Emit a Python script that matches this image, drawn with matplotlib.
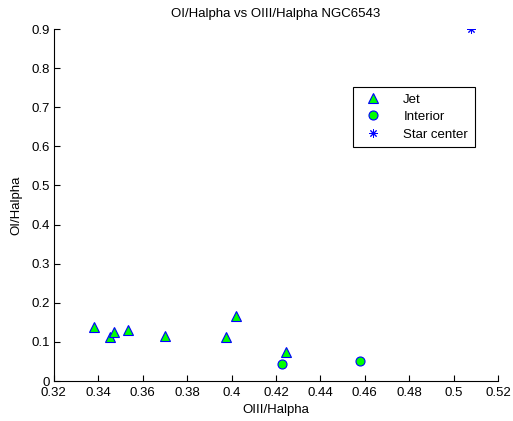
import matplotlib
matplotlib.use("Agg")
import matplotlib.pyplot as plt

plt.rcParams['font.family'] = ['Liberation Sans', 'DejaVu Sans']

# jet points
jet_x = [0.3382, 0.3452, 0.3470, 0.3532, 0.3699, 0.3975, 0.4021, 0.4244]
jet_y = [0.137, 0.113, 0.125, 0.131, 0.115, 0.1125, 0.167, 0.075]
# interior points
int_x = [0.4228, 0.4577]
int_y = [0.043, 0.051]
# star center
star_x = [0.508]
star_y = [0.9]

fig = plt.figure(figsize=(5.13, 4.21), dpi=100)
ax = fig.add_axes([0.105, 0.095, 0.866, 0.836])

ax.plot(jet_x, jet_y, '^', color='blue', markerfacecolor='#00ff00', markersize=7, markeredgewidth=0.8, label='Jet')
ax.plot(int_x, int_y, 'o', color='blue', markerfacecolor='#00ff00', markersize=6.5, markeredgewidth=0.8, label='Interior')
ax.plot(star_x, star_y, linestyle='none', marker=(8, 2, 0), color='blue', markersize=6, markeredgewidth=0.7, label='Star center')

ax.set_xlim(0.32, 0.52)
ax.set_ylim(0, 0.9)
ax.set_xticks([0.32, 0.34, 0.36, 0.38, 0.4, 0.42, 0.44, 0.46, 0.48, 0.5, 0.52])
ax.set_xticklabels(['0.32', '0.34', '0.36', '0.38', '0.4', '0.42', '0.44', '0.46', '0.48', '0.5', '0.52'])
ax.set_yticks([0, 0.1, 0.2, 0.3, 0.4, 0.5, 0.6, 0.7, 0.8, 0.9])
ax.set_yticklabels(['0', '0.1', '0.2', '0.3', '0.4', '0.5', '0.6', '0.7', '0.8', '0.9'])
ax.spines['top'].set_visible(False)
ax.spines['right'].set_visible(False)
ax.tick_params(direction='in', length=4, labelsize=9.5)
ax.tick_params(axis='x', pad=4)
ax.tick_params(axis='y', pad=3)

ax.set_xlabel('OIII/Halpha', fontsize=9.5, labelpad=4)
ax.set_ylabel('OI/Halpha', fontsize=9.5, labelpad=6)
ax.set_title('OI/Halpha vs OIII/Halpha NGC6543', fontsize=9.5, pad=9)

leg = ax.legend(loc='upper right', bbox_to_anchor=(0.962, 0.855), fontsize=9.5, fancybox=False,
                edgecolor='black', framealpha=1, borderpad=0.5, handletextpad=1.3, labelspacing=0.4)
leg.get_frame().set_linewidth(0.8)

fig.savefig('out.png', dpi=100)
